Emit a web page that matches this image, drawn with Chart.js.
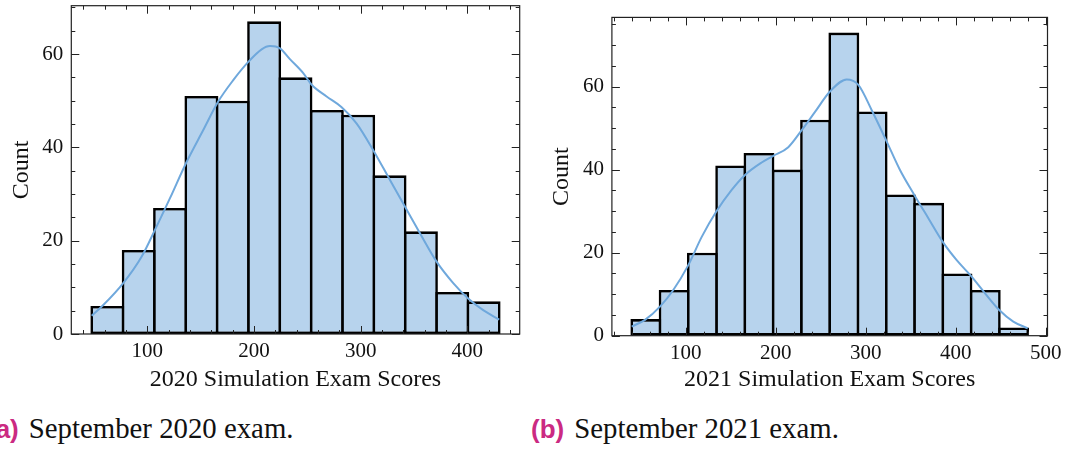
<!DOCTYPE html>
<html>
<head>
<meta charset="utf-8">
<title>Simulation exam score histograms</title>
<script src="https://cdn.jsdelivr.net/npm/chart.js@4.4.0/dist/chart.umd.min.js"></script>
<style>
  html, body { margin: 0; padding: 0; background: #fff; }
  body { width: 1071px; height: 450px; position: relative; overflow: hidden; }
  canvas { position: absolute; top: 0; }
  #histA { left: 0; }
  #histB { left: 535px; }
  .caption {
    position: absolute; top: 414px; white-space: nowrap;
    font-family: "Liberation Serif", serif; font-size: 28.8px; line-height: 1; color: #111;
  }
  .caption b {
    font-family: "Liberation Sans", sans-serif; font-size: 26px; font-weight: bold;
    color: #cb2a82; margin-right: 10px;
  }
</style>
</head>
<body>
<canvas id="histA" width="535" height="400"></canvas>
<canvas id="histB" width="536" height="400"></canvas>
<div class="caption" style="left:-13px"><b>(a)</b>September 2020 exam.</div>
<div class="caption" style="left:531px"><b>(b)</b>September 2021 exam.</div>

<script>
// --- 2020 exam ---
const edges2020 = [47.9, 77.29, 106.68, 136.07, 165.46, 194.85, 224.24, 253.63, 283.02, 312.41, 341.8, 371.19, 400.58, 429.97];
const counts2020 = [6, 18, 27, 51, 50, 67, 55, 48, 47, 34, 22, 9, 7];
const kdeX2020 = [47.9, 58.8, 77.5, 94.8, 107.2, 121.3, 136.3, 152.5, 166.5, 180.6, 194.7, 207.2, 215, 224.4, 233.7, 246.2, 254.1, 268.1, 282.2, 296.3, 311.8, 327.5, 341.5, 355.6, 371.2, 386.8, 400.8, 414.9, 429.9];
const kdeY2020 = [3.9, 6.2, 10.9, 16.6, 22.3, 29.1, 36.6, 43.7, 49.8, 54.4, 58.3, 61.0, 61.7, 61.2, 58.9, 55.9, 53.4, 50.9, 48.6, 45.1, 39.4, 33.0, 27.3, 21.6, 15.5, 10.9, 7.6, 5.1, 3.1];
const xTicks2020 = [100, 200, 300, 400];
const yTicks2020 = [0, 20, 40, 60];
const xRange2020 = [28.8, 449.1];
const yMax2020 = 70.35;

// --- 2021 exam ---
const edges2021 = [40, 71.43, 102.86, 134.29, 165.71, 197.14, 228.57, 260, 291.43, 322.86, 354.29, 385.71, 417.14, 448.57, 480];
const counts2021 = [4, 11, 20, 41, 44, 40, 52, 73, 54, 34, 32, 15, 11, 2];
const kdeX2021 = [40, 54.8, 71.4, 86.2, 102.9, 117.8, 134, 151.1, 165.9, 184.4, 197.3, 214, 228.9, 243.7, 260.3, 278.9, 291.8, 306.7, 322.6, 338.1, 354, 369.6, 385.6, 401.1, 417, 432.6, 448.4, 464, 480];
const kdeY2021 = [2.2, 3.8, 7.0, 11.0, 17.0, 23.8, 29.9, 35.1, 38.7, 41.7, 43.3, 45.4, 49.5, 53.9, 58.8, 61.7, 60.4, 54.3, 47.1, 39.9, 33.9, 28.3, 22.6, 18.2, 14.4, 10.2, 6.2, 3.4, 1.8];
const xTicks2021 = [100, 200, 300, 400, 500];
const yTicks2021 = [0, 20, 40, 60];
const xRange2021 = [18, 502];
const yMax2021 = 76.65;

const ink = '#111';
const serif = '"Liberation Serif", "DejaVu Serif", serif';
const tickFont = { family: serif, size: 21 };
const titleFont = { family: serif, size: 24 };

// box around the plot with inward major/minor ticks on all four sides
const frameTicks = {
  id: 'frameTicks',
  afterDraw(chart) {
    const { ctx, chartArea: a, scales: { x, y } } = chart;
    ctx.save();
    ctx.strokeStyle = '#222';
    ctx.lineWidth = 1;
    ctx.beginPath();
    for (let i = Math.ceil(x.min / 20); i * 20 <= x.max; i++) {
      const v = i * 20;
      const px = Math.round(x.getPixelForValue(v)) + 0.5;
      const len = v % 100 === 0 ? 8 : 4;
      ctx.moveTo(px, a.bottom); ctx.lineTo(px, a.bottom - len);
      ctx.moveTo(px, a.top); ctx.lineTo(px, a.top + len);
    }
    for (let i = 0; i * 5 <= y.max; i++) {
      const v = i * 5;
      const py = Math.round(y.getPixelForValue(v)) + 0.5;
      const len = v % 20 === 0 ? 8 : 4;
      ctx.moveTo(a.left, py); ctx.lineTo(a.left + len, py);
      ctx.moveTo(a.right, py); ctx.lineTo(a.right - len, py);
    }
    ctx.stroke();
    ctx.lineWidth = 1.2;
    ctx.strokeRect(a.left, a.top, a.right - a.left, a.bottom - a.top);
    ctx.restore();
  }
};

function makeHistogram(id, h) {
  const bars = h.counts.map((c, i) => ({ x: (h.edges[i] + h.edges[i + 1]) / 2, y: c }));
  const kde = h.kdeX.map((v, i) => ({ x: v, y: h.kdeY[i] }));
  return new Chart(document.getElementById(id), {
    type: 'bar',
    data: {
      datasets: [
        {
          type: 'line', data: kde, order: 0,
          borderColor: '#6fa8dc', borderWidth: 2, pointRadius: 0,
          cubicInterpolationMode: 'monotone', fill: false
        },
        {
          type: 'bar', data: bars, order: 1,
          backgroundColor: 'rgba(111,168,220,0.5)', borderColor: '#000', borderWidth: 2.6,
          borderSkipped: false, categoryPercentage: 1, barPercentage: h.barPct
        }
      ]
    },
    options: {
      responsive: false, animation: false, devicePixelRatio: 1,
      layout: { padding: { top: h.padTop, right: h.padRight, left: 0, bottom: 0 } },
      plugins: { legend: { display: false }, tooltip: { enabled: false } },
      scales: {
        x: {
          type: 'linear', min: h.xRange[0], max: h.xRange[1], offset: false,
          grid: { display: false, drawTicks: false }, border: { display: false },
          afterBuildTicks: s => { s.ticks = h.xTicks.map(v => ({ value: v })); },
          ticks: { font: tickFont, color: ink, padding: 5, maxRotation: 0, autoSkip: false },
          title: { display: true, text: h.xTitle, font: titleFont, color: ink, padding: { top: 0, bottom: 6 } },
          afterFit: s => { s.height = h.xHeight; s.paddingLeft = 0; s.paddingRight = 0; }
        },
        y: {
          min: 0, max: h.yMax,
          grid: { display: false, drawTicks: false }, border: { display: false },
          afterBuildTicks: s => { s.ticks = h.yTicks.map(v => ({ value: v })); },
          ticks: { font: tickFont, color: ink, padding: 8, autoSkip: false },
          title: { display: true, text: 'Count', font: titleFont, color: ink, padding: { top: h.yTitlePad, bottom: 0 } },
          afterFit: s => { s.width = h.yWidth; s.paddingTop = 0; s.paddingBottom = 0; }
        }
      }
    },
    plugins: [frameTicks]
  });
}

function drawAll() {
  makeHistogram('histA', {
    edges: edges2020, counts: counts2020, kdeX: kdeX2020, kdeY: kdeY2020,
    xTicks: xTicks2020, yTicks: yTicks2020, xRange: xRange2020, yMax: yMax2020,
    xTitle: '2020 Simulation Exam Scores', barPct: 1.083,
    yWidth: 71.3, xHeight: 66, padTop: 5.7, padRight: 15.3, yTitlePad: 7
  });

  makeHistogram('histB', {
    edges: edges2021, counts: counts2021, kdeX: kdeX2021, kdeY: kdeY2021,
    xTicks: xTicks2021, yTicks: yTicks2021, xRange: xRange2021, yMax: yMax2021,
    xTitle: '2021 Simulation Exam Scores', barPct: 1.092,
    yWidth: 76.9, xHeight: 64.3, padTop: 17.4, padRight: 23.5, yTitlePad: 12.5
  });
}

// make sure the serif face is ready before the canvases measure text
document.fonts.load('21px "Liberation Serif"').then(drawAll, drawAll);
</script>
</body>
</html>
